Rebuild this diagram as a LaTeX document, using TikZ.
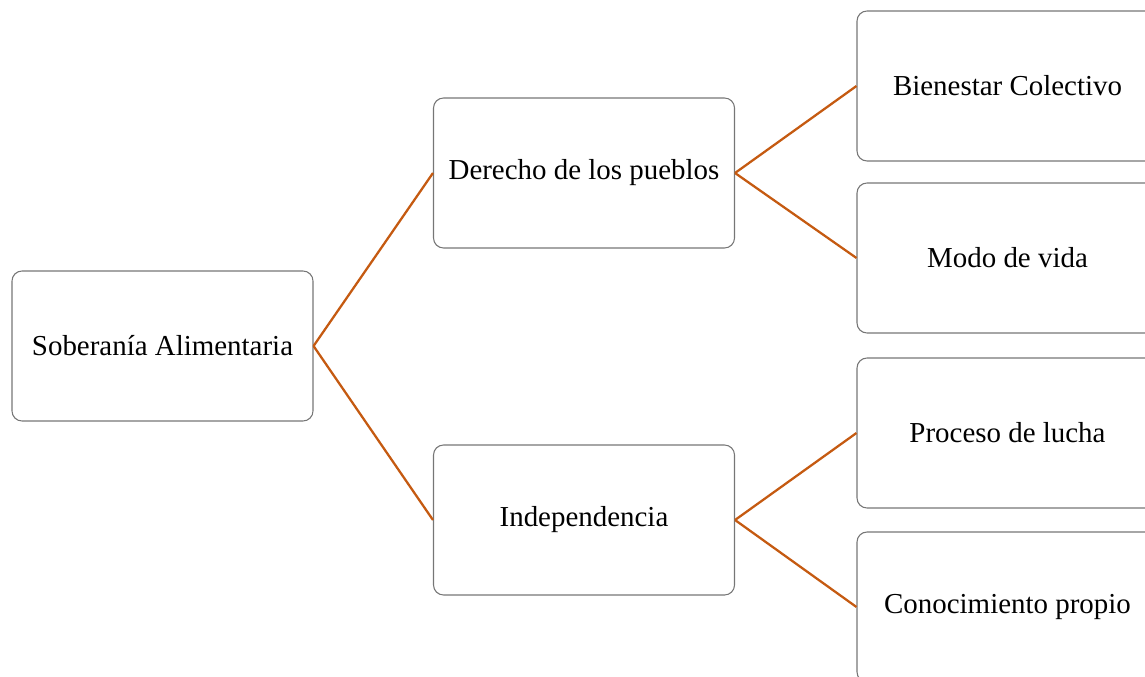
\documentclass[tikz,border=0pt]{standalone}
\usepackage{fontspec}
\setmainfont{Liberation Serif}

\definecolor{lineorange}{RGB}{197,90,17}
\definecolor{boxgray}{RGB}{118,118,118}

\tikzset{
  concept/.style={draw=boxgray, line width=0.8pt, rounded corners=7.5pt,
    minimum width=225.75pt, minimum height=112.5pt, inner sep=0pt,
    font=\fontsize{21.7}{26}\selectfont},
  branch/.style={draw=lineorange, line width=1.7pt}
}

\begin{document}
\begin{tikzpicture}[x=0.75pt, y=-0.75pt]
  \clip (0,0) rectangle (1145,677);

  \node[concept] (soberania) at (162.5,346) {Soberanía Alimentaria};

  \node[concept] (derecho) at (584,173) {Derecho de los pueblos};
  \node[concept] (independencia) at (584,520) {Independencia};

  % right column runs past the page edge
  \node[concept] (bienestar) at (1007.5,86) {Bienestar Colectivo};
  \node[concept] (modo) at (1007.5,258) {Modo de vida};
  \node[concept] (proceso) at (1007.5,433) {Proceso de lucha};
  \node[concept] (conocimiento) at (1007.5,607) {Conocimiento propio};

  \draw[branch] (soberania.east) -- (derecho.west);
  \draw[branch] (soberania.east) -- (independencia.west);
  \draw[branch] (derecho.east) -- (bienestar.west);
  \draw[branch] (derecho.east) -- (modo.west);
  \draw[branch] (independencia.east) -- (proceso.west);
  \draw[branch] (independencia.east) -- (conocimiento.west);
\end{tikzpicture}
\end{document}
